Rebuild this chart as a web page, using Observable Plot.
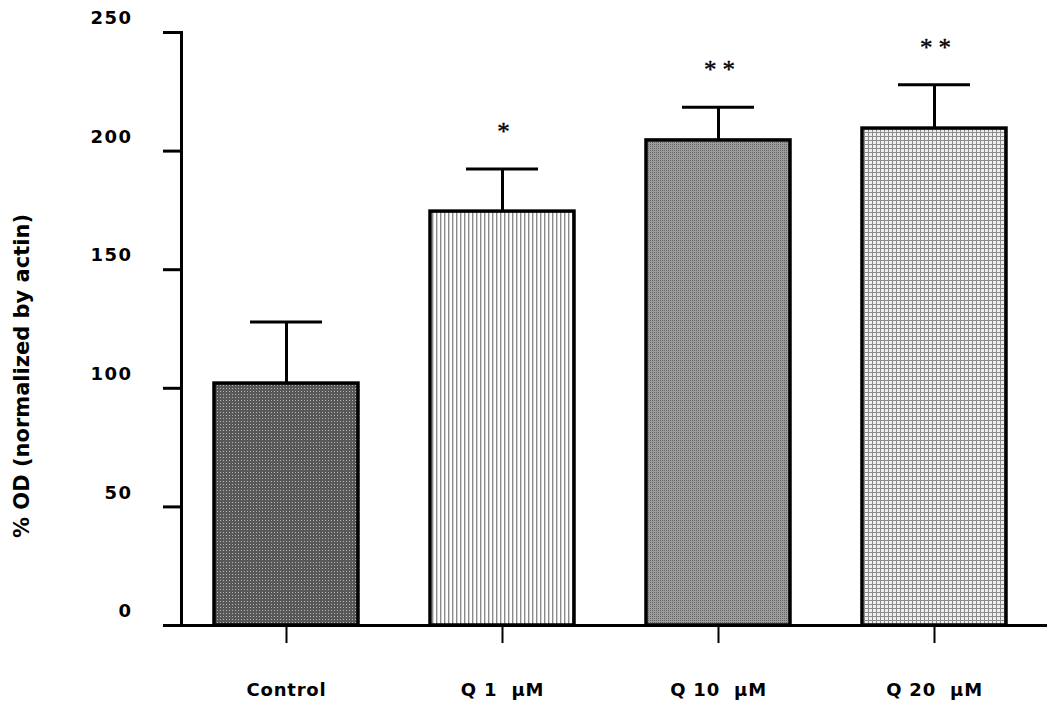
<!DOCTYPE html>
<html>
<head>
<meta charset="utf-8">
<script src="https://cdn.jsdelivr.net/npm/d3@7"></script>
<script src="https://cdn.jsdelivr.net/npm/@observablehq/plot@0.6"></script>
<style>
  html, body { margin: 0; padding: 0; background: #fff; }
  svg { display: block; }
  g[aria-label="y-axis tick label"] text { letter-spacing: 1.5px; }
  g[aria-label="x-axis tick label"] text { letter-spacing: 0.8px; }
  g.sig text { letter-spacing: 6px; }
</style>
</head>
<body>
<div id="chart"></div>
<script>
// ---- data ----
const categories = ["Control", "Q 1  \u00b5M", "Q 10  \u00b5M", "Q 20  \u00b5M"];
const means = [102, 174.5, 204.5, 209.5];
const errors = [26, 18, 14, 18.5];
const significance = ["", "*", "**", "**"];
const yTicks = [0, 50, 100, 150, 200, 250];
const yLabel = "% OD (normalized by actin)";

// ---- styles ----
const patternIds = ["pDots", "pVlines", "pFine", "pGrid"];
const font = "'DejaVu Sans', Verdana, sans-serif";

const rows = categories.map((c, i) => ({
  cat: c, mean: means[i], top: means[i] + errors[i], sig: significance[i],
  fill: `url(#${patternIds[i]})`
}));

const chart = Plot.plot({
  width: 1050,
  height: 706,
  marginTop: 32,
  marginBottom: 81,
  marginLeft: 181,
  marginRight: 5,
  style: {fontFamily: font, background: "#fff", color: "#000"},
  x: {domain: categories, paddingInner: 0.335, paddingOuter: 0.161, align: 0.458, label: null},
  y: {domain: [0, 250], label: null},
  color: {type: "identity"},
  marks: [
    Plot.ruleX(rows, {x: "cat", y1: "mean", y2: "top", stroke: "#000", strokeWidth: 3}),
    Plot.tickY(rows, {x: "cat", y: "top", insetLeft: 36, insetRight: 36, stroke: "#000", strokeWidth: 3}),
    Plot.barY(rows, {x: "cat", y: "mean", fill: "fill", stroke: "#000", strokeWidth: 3.5}),
    Plot.text(rows, {x: "cat", y: "top", text: "sig", dy: -37, dx: 4, fontSize: 25,
      fontFamily: "'Liberation Serif', serif", fill: "#000", stroke: "#000", strokeWidth: 0.4,
      className: "sig"}),
    Plot.axisY({ticks: yTicks, tickSize: 18, tickFormat: () => "", strokeWidth: 3, label: null}),
    Plot.axisY({ticks: yTicks, tickSize: 0, tickPadding: 49, dy: -14,
      fontSize: 18, fontWeight: "bold", label: null}),
    Plot.axisX({tickSize: 18, tickPadding: 40, strokeWidth: 2, fontSize: 18,
      fontWeight: "bold", label: null}),
    Plot.frame({anchor: "left", strokeWidth: 3}),
    Plot.frame({anchor: "bottom", strokeWidth: 3}),
    Plot.text([yLabel], {text: d => d, frameAnchor: "left", textAnchor: "middle", rotate: -90,
      dx: -159, dy: 47, fontSize: 21, fontWeight: "bold", fill: "#000"})
  ]
});

// add fill patterns
const ns = "http://www.w3.org/2000/svg";
const defs = document.createElementNS(ns, "defs");
defs.innerHTML = `
  <pattern id="pDots" width="3" height="3" patternUnits="userSpaceOnUse">
    <rect width="3" height="3" fill="#585858"/>
    <rect x="1" y="1" width="1" height="1" fill="#b4b4b4"/>
  </pattern>
  <pattern id="pVlines" width="4" height="4" patternUnits="userSpaceOnUse">
    <rect width="4" height="4" fill="#ffffff"/>
    <rect x="0" y="0" width="1.4" height="4" fill="#8a8a8a"/>
  </pattern>
  <pattern id="pFine" width="2" height="2" patternUnits="userSpaceOnUse">
    <rect width="2" height="2" fill="#9c9c9c"/>
    <rect x="0" y="0" width="1" height="1" fill="#666666"/>
  </pattern>
  <pattern id="pGrid" width="4" height="4" patternUnits="userSpaceOnUse">
    <rect width="4" height="4" fill="#8c8c8c"/>
    <rect x="1" y="1" width="3" height="3" fill="#eeeeee"/>
  </pattern>`;
chart.insertBefore(defs, chart.firstChild);
document.getElementById("chart").appendChild(chart);
</script>
</body>
</html>
